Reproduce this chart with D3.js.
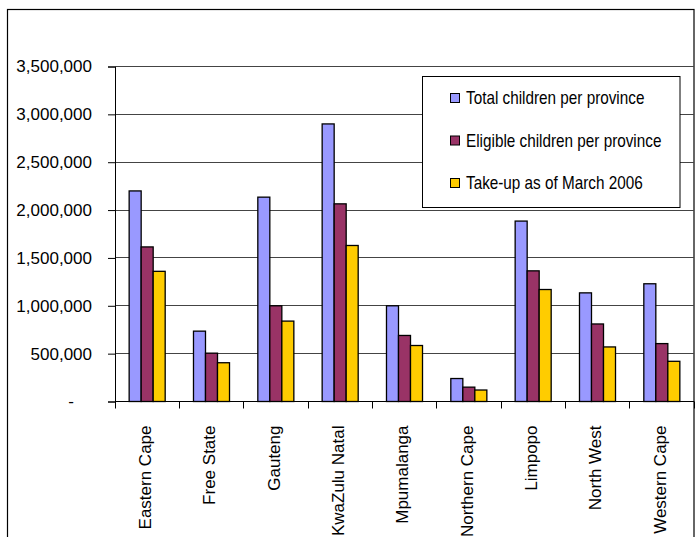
<!DOCTYPE html>
<html>
<head>
<meta charset="utf-8">
<script src="https://cdn.jsdelivr.net/npm/d3@7"></script>
<style>
  body { margin: 0; background: #fff; }
  text { font-family: "Liberation Sans", Arial, sans-serif; fill: #000; }
</style>
</head>
<body>
<svg id="chart" width="700" height="537"></svg>
<script>
// Provinces and the three child counts for each
const provinces = ["Eastern Cape", "Free State", "Gauteng", "KwaZulu Natal", "Mpumalanga",
                   "Northern Cape", "Limpopo", "North West", "Western Cape"];
const totalChildren    = [2200000, 735000, 2135000, 2900000, 1000000, 240000, 1885000, 1135000, 1230000];
const eligibleChildren = [1615000, 505000, 1000000, 2065000,  690000, 150000, 1365000,  810000,  605000];
const takeUp           = [1360000, 405000,  840000, 1630000,  585000, 120000, 1170000,  570000,  420000];
const seriesNames  = ["Total children per province", "Eligible children per province", "Take-up as of March 2006"];
const seriesColors = ["#9999FF", "#993366", "#FFCC00"];
const yTicks = [0, 500000, 1000000, 1500000, 2000000, 2500000, 3000000, 3500000];

const seriesValues = [totalChildren, eligibleChildren, takeUp];
const rows = provinces.map((p, i) => ({
  province: p,
  values: seriesNames.map((s, k) => ({ series: s, value: seriesValues[k][i], color: seriesColors[k] }))
}));

const svg = d3.select("#chart");
const plotLeft = 115, plotRight = 694, plotTop = 66.5, plotBottom = 401.5;

// Outer chart frame
svg.append("rect")
  .attr("x", 7.5).attr("y", 9.5)
  .attr("width", 686.5).attr("height", 560)
  .attr("fill", "#fff").attr("stroke", "#000").attr("stroke-width", 1.2);

const x0 = d3.scaleBand().domain(provinces).range([plotLeft, plotRight])
  .paddingInner(0.44).paddingOuter(0.22);
const x1 = d3.scaleBand().domain(seriesNames).range([0, x0.bandwidth()]);
const y = d3.scaleLinear().domain([0, 3500000]).range([plotBottom, plotTop]);
const snap = v => Math.round(v - 0.5) + 0.5;

// Horizontal gridlines
svg.append("g").selectAll("line")
  .data(yTicks.filter(d => d > 0))
  .join("line")
  .attr("x1", plotLeft).attr("x2", plotRight)
  .attr("y1", d => snap(y(d))).attr("y2", d => snap(y(d)))
  .attr("stroke", "#444").attr("stroke-width", 1);

// Bars
svg.append("g").selectAll("g")
  .data(rows)
  .join("g")
  .attr("transform", d => `translate(${x0(d.province)},0)`)
  .selectAll("rect")
  .data(d => d.values)
  .join("rect")
  .attr("x", d => x1(d.series))
  .attr("y", d => y(d.value))
  .attr("width", x1.bandwidth())
  .attr("height", d => y(0) - y(d.value))
  .attr("fill", d => d.color)
  .attr("stroke", "#000").attr("stroke-width", 1.3);

// Y axis with accounting-style labels (dash for zero)
const yAxis = d3.axisLeft(y)
  .tickValues(yTicks)
  .tickSize(7)
  .tickPadding(16)
  .tickFormat(d => d === 0 ? "-" : d3.format(",")(d));
const gy = svg.append("g").attr("transform", `translate(${plotLeft},0)`).call(yAxis);
gy.select(".domain").attr("stroke", "#000");
gy.selectAll(".tick line").attr("stroke", "#000");
gy.selectAll(".tick text")
  .attr("font-size", 17)
  .attr("font-family", "'Liberation Sans', Arial, sans-serif")
  .attr("fill", "#000")
  .attr("dx", d => d === 0 ? -18 : 0);

// X axis line and boundary ticks between categories
svg.append("line")
  .attr("x1", plotLeft).attr("x2", plotRight)
  .attr("y1", plotBottom).attr("y2", plotBottom)
  .attr("stroke", "#000");
const boundaries = d3.range(provinces.length + 1).map(i => plotLeft + i * x0.step());
svg.append("g").selectAll("line")
  .data(boundaries)
  .join("line")
  .attr("x1", d => snap(d)).attr("x2", d => snap(d))
  .attr("y1", plotBottom).attr("y2", plotBottom + 7)
  .attr("stroke", "#000");

// Rotated category labels
svg.append("g").selectAll("text")
  .data(provinces)
  .join("text")
  .attr("transform", d => `translate(${x0(d) + x0.bandwidth() / 2 - 2},${plotBottom + 24}) rotate(-90)`)
  .attr("text-anchor", "end")
  .attr("dy", "0.35em")
  .attr("font-size", 17)
  .text(d => d);

// Legend (narrow lettering)
const legend = svg.append("g").attr("class", "legend");
legend.append("rect")
  .attr("x", 422.5).attr("y", 76.5)
  .attr("width", 257.5).attr("height", 131)
  .attr("fill", "#fff").attr("stroke", "#000").attr("stroke-width", 1);
const items = legend.selectAll("g.item")
  .data(seriesNames)
  .join("g")
  .attr("class", "item")
  .attr("transform", (d, i) => `translate(450,${98 + i * 42.5})`);
items.append("rect")
  .attr("x", 0.5).attr("y", -4.5)
  .attr("width", 9).attr("height", 9)
  .attr("fill", (d, i) => seriesColors[i])
  .attr("stroke", "#000");
items.append("text")
  .attr("transform", "translate(16,0) scale(0.85,1)")
  .attr("dy", "0.35em")
  .attr("font-size", 18)
  .text(d => d);
</script>
</body>
</html>
